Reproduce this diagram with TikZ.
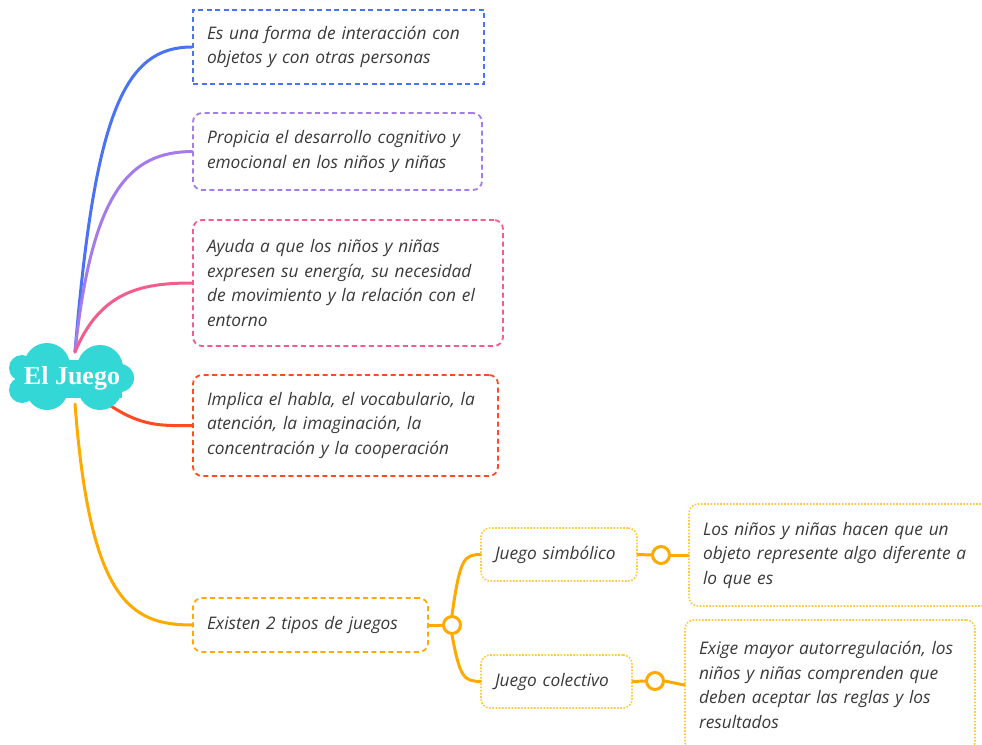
\documentclass[tikz,border=0pt]{standalone}
\usepackage{fontspec}
\setmainfont{Open Sans}
\newfontfamily\cloudfont{Liberation Serif}
\definecolor{cblue}{HTML}{4A72F5}
\definecolor{cpurple}{HTML}{A57BEB}
\definecolor{cpink}{HTML}{F45C8C}
\definecolor{cred}{HTML}{FF4A24}
\definecolor{corange}{HTML}{FFAA00}
\definecolor{clight}{HTML}{FFC93A}
\definecolor{cteal}{HTML}{33D7D6}
\definecolor{ctext}{HTML}{3A3A3A}
\begin{document}
\begin{tikzpicture}[x=1pt,y=-1pt,
  tb/.style={rounded corners=9pt, line width=1.8pt, dash pattern=on 5pt off 3.5pt,
    inner xsep=14pt, inner ysep=0pt, align=left, text=ctext,
    font=\fontsize{17.3}{24.5}\selectfont\itshape},
  tbdot/.style={tb, dash pattern=on 1.6pt off 1.6pt, draw=clight, line width=1.6pt},
  br/.style={line width=3pt, line cap=round},
  knot/.style={circle, draw=corange, fill=white, line width=3pt, minimum size=17pt, inner sep=0pt},
  lobe/.style={fill=cteal}]
\clip (0,0) rectangle (982,744);
\fill[white] (0,0) rectangle (982,744);
% boxes
\node[tb, draw=cblue, rounded corners=0pt, minimum width=291pt, minimum height=74pt, text width=263pt] (b1) at (338.5,47)
  {Es una forma de interacción con\\objetos y con otras personas};
\node[tb, draw=cpurple, minimum width=289pt, minimum height=77pt, text width=261pt] (b2) at (337.5,151.5)
  {Propicia el desarrollo cognitivo y\\emocional en los niños y niñas};
\node[tb, draw=cpink, minimum width=310pt, minimum height=126pt, text width=282pt] (b3) at (348,283)
  {Ayuda a que los niños y niñas\\expresen su energía, su necesidad\\de movimiento y la relación con el\\entorno};
\node[tb, draw=cred, minimum width=305pt, minimum height=101pt, text width=277pt] (b4) at (345.5,425.5)
  {Implica el habla, el vocabulario, la\\atención, la imaginación, la\\concentración y la cooperación};
\node[tb, draw=corange, minimum width=235pt, minimum height=54pt, text width=207pt] (b5) at (310.5,625)
  {Existen 2 tipos de juegos};
\node[tbdot, minimum width=156pt, minimum height=53pt, text width=128pt] (b6) at (559,554.5)
  {Juego simbólico};
\node[tbdot, minimum width=151pt, minimum height=53pt, text width=123pt] (b7) at (556.5,681.5)
  {Juego colectivo};
\node[tbdot, minimum width=301pt, minimum height=102pt, text width=273pt] (b8) at (839.5,555)
  {Los niños y niñas hacen que un\\objeto represente algo diferente a\\lo que es};
\node[tbdot, minimum width=290pt, minimum height=130pt, text width=262pt] (b9) at (830,685)
  {Exige mayor autorregulación, los\\niños y niñas comprenden que\\deben aceptar las reglas y los\\resultados};
% knots
\node[knot] (k1) at (452,625) {};
\node[knot] (k2) at (661,555) {};
\node[knot] (k3) at (655,681) {};
% root anchors
\coordinate (rt) at (75,352);
\coordinate (rr) at (108,404);
\coordinate (rb) at (75,404);
% main branches
\draw[br, cblue] (rt) .. controls (95,110) and (125,47) .. (b1.west);
\draw[br, cpurple] (rt) .. controls (92,190) and (130,152) .. (b2.west);
\draw[br, cpink] (rt) .. controls (100,292) and (140,283) .. (b3.west);
\draw[br, cred] (rr) .. controls (140,426) and (160,426) .. (b4.west);
\draw[br, corange] (rb) .. controls (90,600) and (130,625) .. (b5.west);
% sub branches
\draw[br, corange] (b5.east) -- (k1.west);
\draw[br, corange] (k1.north) .. controls (460,558) and (464,555) .. (b6.west);
\draw[br, corange] (k1.south) .. controls (460,678) and (464,681) .. (b7.west);
\draw[br, corange] (b6.east) -- (k2.west);
\draw[br, corange] (k2.east) -- (b8.west);
\draw[br, corange] (b7.east) -- (k3.west);
\draw[br, corange] (k3.east) -- (b9.west);
% cloud
\fill[lobe] (47,366) circle (23);
\fill[lobe] (100,368) circle (23);
\fill[lobe] (47,389) circle (21);
\fill[lobe] (100,388) circle (22);
\fill[lobe] (22,368) circle (13);
\fill[lobe] (22,390) circle (13);
\fill[lobe] (120,378) circle (14);
\fill[lobe] (25,360) rectangle (122,398);
\node[text=white, font=\cloudfont\bfseries\fontsize{26}{26}\selectfont] (root) at (72,378) {El Juego};
\end{tikzpicture}
\end{document}
